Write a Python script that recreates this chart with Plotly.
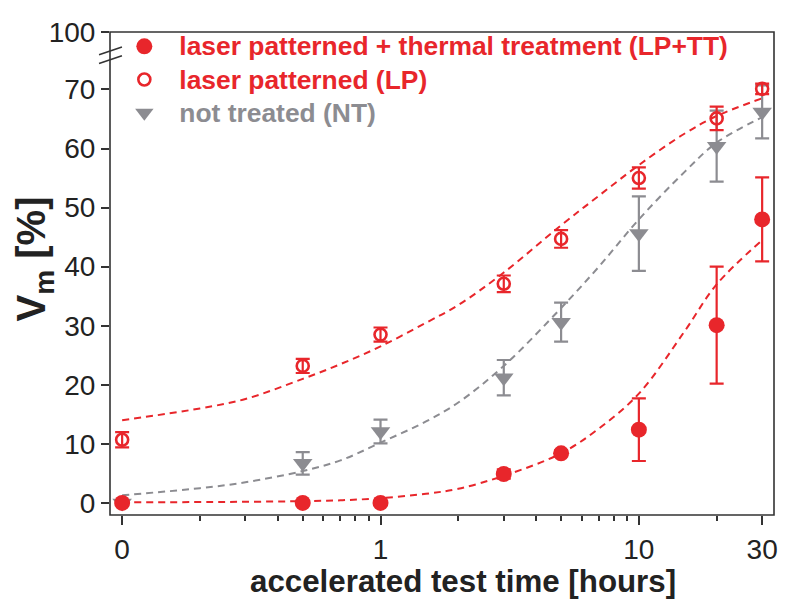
import plotly.graph_objects as go

# ---------------- data ----------------
ZERO_AT = 0.1  # "0 hours" is drawn at this position on the log axis
hours = [0, 0.5, 1, 3, 5, 10, 20, 30]

lptt_vm = [0.0, 0.0, 0.0, 4.9, 8.4, 12.4, 30.1, 48.0]
lptt_err = [0.0, 0.0, 0.0, 0.8, 0.5, 5.3, 9.9, 7.1]

lp_vm = [10.7, 23.2, 28.5, 37.1, 44.7, 55.0, 65.1, 70.1]
lp_err = [1.3, 1.2, 1.2, 1.4, 1.5, 1.8, 2.0, 0.9]

nt_vm = [0.0, 6.7, 12.1, 21.2, 30.6, 45.6, 60.4, 66.2]
nt_err = [0.0, 1.9, 2.0, 3.0, 3.3, 6.3, 6.0, 4.5]

# fitted curves
fit_t = [0.1, 0.2, 0.3, 0.5, 0.7, 1, 1.5, 2, 3, 5, 7, 10, 15, 20, 30]
fit_lptt = [0.1, 0.15, 0.2, 0.3, 0.45, 0.8, 1.55, 2.4, 4.6, 8.4, 12.6, 18.5, 29.0, 37.0, 44.5]
fit_lp = [14.0, 16.0, 17.6, 21.0, 23.5, 26.5, 30.5, 33.5, 39.0, 47.0, 52.0, 57.2, 62.5, 65.5, 68.5]
fit_nt = [1.3, 2.5, 3.5, 5.4, 7.2, 10.2, 13.8, 17.0, 23.2, 33.0, 40.0, 48.0, 56.0, 61.0, 65.3]

names = ["laser patterned + thermal treatment (LP+TT)",
         "laser patterned (LP)",
         "not treated (NT)"]

x_tickvals = [0.1, 1, 10, 30]
x_ticktext = ["0", "1", "10", "30"]
x_minor = [0.2, 0.3, 0.4, 0.5, 0.6, 0.7, 0.8, 0.9, 2, 3, 4, 5, 6, 7, 8, 9, 20]
y_tickvals = [0, 10, 20, 30, 40, 50, 60, 70]
y2_tickvals = [100]

RED = "#e8262b"
GRAY = "#8c8c91"
AX = "#333333"
FONT = "Liberation Sans"

xs = [ZERO_AT if h == 0 else h for h in hours]


def legend_label(text, color):
    return f'<span style="color:{color};font-size:26.4px">{text}</span>'


fig = go.Figure()

dash = "7px,5px"
fig.add_trace(go.Scatter(x=fit_t, y=fit_nt, mode="lines", line=dict(color=GRAY, width=2, dash=dash, shape="spline"),
                         showlegend=False, hoverinfo="skip"))
fig.add_trace(go.Scatter(x=fit_t, y=fit_lp, mode="lines", line=dict(color=RED, width=2, dash=dash, shape="spline"),
                         showlegend=False, hoverinfo="skip"))
fig.add_trace(go.Scatter(x=fit_t, y=fit_lptt, mode="lines", line=dict(color=RED, width=2, dash=dash, shape="spline"),
                         showlegend=False, hoverinfo="skip"))

fig.add_trace(go.Scatter(
    x=xs, y=nt_vm, mode="markers", legendrank=3, legendgroup="c",
    name=legend_label(names[2], GRAY),
    marker=dict(symbol="triangle-down", size=17, color=GRAY),
    error_y=dict(type="data", array=nt_err, color=GRAY, thickness=2.2, width=7)))
fig.add_trace(go.Scatter(
    x=xs, y=lp_vm, mode="markers", legendrank=2, legendgroup="b",
    name=legend_label(names[1], RED),
    marker=dict(symbol="circle-open", size=12, color=RED, line=dict(width=2.6, color=RED)),
    error_y=dict(type="data", array=lp_err, color=RED, thickness=2.2, width=7)))
fig.add_trace(go.Scatter(
    x=xs, y=lptt_vm, mode="markers", legendrank=1, legendgroup="a",
    name=legend_label(names[0], RED),
    marker=dict(symbol="circle", size=16, color=RED),
    error_y=dict(type="data", array=lptt_err, color=RED, thickness=2.2, width=7)))
# upper broken-axis segment
fig.add_trace(go.Scatter(x=[], y=[], yaxis="y2", showlegend=False, hoverinfo="skip"))

tickfont = dict(family=FONT, size=28, color="#222222")
fig.update_layout(
    width=779, height=597,
    margin=dict(l=102, r=9, t=14, b=90),
    plot_bgcolor="white", paper_bgcolor="white",
    xaxis=dict(type="log", range=[-1.047, 1.523], tickvals=x_tickvals, ticktext=x_ticktext,
               ticks="outside", ticklen=9, tickwidth=1.6, tickcolor=AX, showgrid=False,
               zeroline=False, showline=False, tickfont=tickfont, ticklabeloverflow="allow",
               minor=dict(tickvals=x_minor, ticks="outside", ticklen=5, tickwidth=1.6,
                          tickcolor=AX, showgrid=False)),
    yaxis=dict(domain=[0, 0.93], range=[-2.04, 74.0], tickvals=y_tickvals, ticks="outside",
               ticklen=8, tickwidth=1.6, tickcolor=AX, showgrid=False, zeroline=False,
               showline=False, tickfont=tickfont, ticklabeloverflow="allow"),
    yaxis2=dict(domain=[0.975, 1], range=[98, 100], tickvals=y2_tickvals, ticks="outside",
                ticklen=8, tickwidth=1.6, tickcolor=AX, showgrid=False, zeroline=False,
                showline=False, tickfont=tickfont, anchor="x", ticklabeloverflow="allow"),
    legend=dict(x=-0.001, y=1.015, xanchor="left", yanchor="top", bgcolor="rgba(0,0,0,0)",
                traceorder="grouped", tracegroupgap=0, itemwidth=60,
                font=dict(family=FONT, size=23.2, weight="bold")),
    showlegend=True,
    shapes=[
        dict(type="rect", xref="paper", yref="paper", x0=0, x1=1, y0=0, y1=1,
             line=dict(color=AX, width=1.6)),
        dict(type="line", xref="paper", yref="paper", x0=-0.0165, x1=0.018, y0=0.953, y1=0.969,
             line=dict(color=AX, width=1.6)),
        dict(type="line", xref="paper", yref="paper", x0=-0.0165, x1=0.018, y0=0.935, y1=0.951,
             line=dict(color=AX, width=1.6)),
    ],
    annotations=[
        dict(text="<b>accelerated test time [hours]</b>", xref="paper", yref="paper",
             x=0.532, y=-0.137, xanchor="center", yanchor="middle", showarrow=False,
             font=dict(family=FONT, size=31.3, color="#222222")),
        dict(text="<b>V<sub>m</sub> [%]</b>", xref="paper", yref="paper", textangle=-90,
             x=-0.1138, y=0.53, xanchor="center", yanchor="middle", showarrow=False,
             font=dict(family=FONT, size=40, color="#222222")),
    ],
)

fig.write_html("out.html")
